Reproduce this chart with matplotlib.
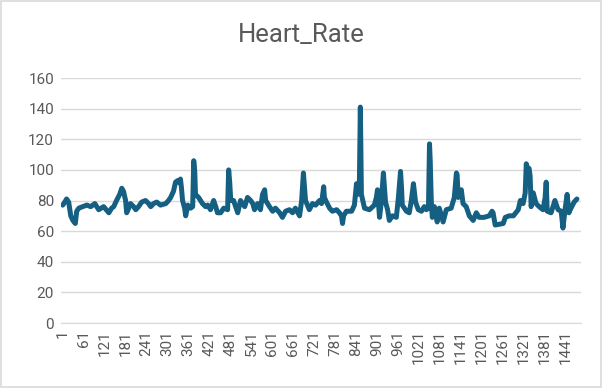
import matplotlib
matplotlib.use("Agg")
import matplotlib.pyplot as plt
from matplotlib.patches import Rectangle

plt.rcParams['font.family'] = ['Roboto', 'DejaVu Sans']

# sample number -> heart rate
sample = [1, 7, 12, 18, 24, 30, 37, 41, 47, 58, 70, 81, 93, 104, 118, 133, 141, 147,
          155, 164, 170, 175, 181, 184, 190, 195, 204, 210, 218, 227, 238, 247, 253,
          261, 270, 281, 296, 304, 310, 318, 324, 330, 333, 338, 341, 344, 350, 353,
          359, 367, 373, 376, 379, 381, 390, 401, 410, 416, 424, 433, 439, 444, 453,
          462, 473, 476, 479, 482, 490, 493, 502, 510, 516, 522, 530, 539, 545, 550,
          559, 567, 573, 579, 582, 593, 602, 610, 622, 630, 639, 650, 659, 667, 679,
          685, 690, 693, 696, 707, 716, 725, 736, 742, 748, 750, 756, 765, 773, 785,
          793, 799, 802, 805, 813, 828, 836, 842, 845, 850, 853, 856, 862, 865, 879,
          893, 899, 902, 905, 908, 913, 919, 922, 925, 931, 936, 945, 956, 962, 968,
          971, 973, 985, 993, 999, 1005, 1011, 1019, 1028, 1036, 1042, 1048, 1051,
          1053, 1056, 1059, 1065, 1073, 1079, 1085, 1090, 1099, 1113, 1122, 1125,
          1128, 1130, 1133, 1142, 1147, 1156, 1165, 1176, 1185, 1193, 1207, 1222,
          1230, 1233, 1239, 1262, 1268, 1279, 1291, 1305, 1311, 1319, 1325, 1328,
          1333, 1336, 1339, 1342, 1348, 1356, 1365, 1370, 1376, 1382, 1385, 1388,
          1399, 1410, 1419, 1428, 1433, 1439, 1445, 1450, 1456, 1465, 1473]
heart_rate = [77, 79, 81, 79, 70, 67, 65, 73, 75, 76, 77, 76, 78, 74, 76, 72, 75, 76,
              80, 84, 88, 86, 80, 72, 75, 78, 76, 74, 76, 79, 80, 78, 76,
              78, 79, 77, 78, 80, 82, 86, 92, 93, 92, 94, 88, 80, 75, 70,
              77, 75, 76, 106, 99, 84, 82, 78, 76, 77, 74, 80, 76, 72, 72,
              75, 74, 100, 92, 80, 80, 78, 72, 80, 78, 76, 82, 80, 78, 74,
              78, 74, 84, 87, 80, 76, 73, 75, 72, 69, 73, 74, 72, 75, 70,
              80, 98, 89, 80, 74, 78, 77, 80, 78, 89, 82, 79, 75, 73, 74,
              72, 70, 65, 70, 73, 73, 77, 91, 84, 86, 141, 84, 78, 75, 74,
              77, 82, 87, 78, 69, 79, 98, 88, 79, 74, 67, 70, 69, 82, 99,
              88, 77, 73, 72, 80, 91, 79, 74, 73, 76, 74, 75, 117,
              106, 80, 69, 76, 66, 75, 70, 66, 74, 75, 82, 90,
              98, 97, 82, 87, 78, 76, 70, 67, 72, 69, 69, 70,
              73, 72, 64, 65, 69, 70, 70, 74, 80, 78, 85, 104,
              100, 101, 96, 76, 85, 78, 76, 75, 74, 82, 92, 73,
              72, 80, 74, 73, 62, 74, 84, 72, 75, 79, 81]

tick_pos = list(range(1, 1442, 60))
tick_labels = [str(t) for t in tick_pos]

fig = plt.figure(figsize=(6.02, 3.88), dpi=100)
ax = fig.add_axes([0.1013, 0.1675, 0.864, 0.6314])

ax.plot(sample, heart_rate, color="#156082", lw=3.6,
        solid_capstyle="round", solid_joinstyle="round")

ax.set_ylim(0, 160)
ax.set_yticks(range(0, 161, 20))
ax.set_xlim(-4, 1485)
ax.set_xticks(tick_pos)
ax.set_xticklabels(tick_labels, rotation=90)
ax.grid(axis="y", color="#D9D9D9", lw=1)
ax.set_axisbelow(True)
for s in ["top", "right", "left"]:
    ax.spines[s].set_visible(False)
ax.spines["bottom"].set_color("#D9D9D9")
ax.tick_params(length=0, colors="#595959", labelsize=11, pad=5)

fig.text(0.5, 1 - 35 / 388, "Heart_Rate", ha="center", va="center",
         fontsize=18.5, color="#595959")

fig.patches.append(Rectangle((0.002, 0.003), 0.996, 0.994, transform=fig.transFigure,
                             fill=False, edgecolor="#D9D9D9", lw=1.2))

fig.savefig("out.png", dpi=100)
